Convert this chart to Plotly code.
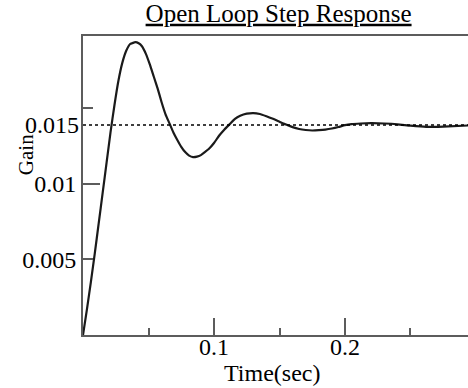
import plotly.graph_objects as go

# Step response samples
time_s = [0, 0.003, 0.006, 0.009, 0.012, 0.015, 0.018, 0.021, 0.024, 0.027,
          0.030, 0.033, 0.036, 0.0375, 0.040, 0.0425, 0.045, 0.048, 0.051,
          0.054, 0.057, 0.060, 0.063, 0.066, 0.069, 0.072, 0.075, 0.078,
          0.081, 0.084, 0.087, 0.090, 0.093, 0.096, 0.100, 0.104, 0.108,
          0.112, 0.116, 0.120, 0.125, 0.130, 0.135, 0.140, 0.145, 0.150,
          0.155, 0.160, 0.165, 0.170, 0.175, 0.180, 0.185, 0.190, 0.195,
          0.200, 0.205, 0.212, 0.220, 0.230, 0.240, 0.250, 0.262, 0.275,
          0.294]
gain = [0, 0.0017, 0.0035, 0.0054, 0.0074, 0.0094, 0.0114, 0.0134, 0.0152,
        0.0168, 0.0180, 0.0188, 0.01925, 0.0193, 0.01937, 0.0193, 0.0191,
        0.0186, 0.0179, 0.0171, 0.0163, 0.0154, 0.0146, 0.0140, 0.0134,
        0.0129, 0.01245, 0.0121, 0.01187, 0.01177, 0.0118, 0.0119, 0.0121,
        0.0123, 0.0127, 0.0132, 0.0136, 0.01395, 0.0143, 0.0145, 0.01464,
        0.01468, 0.01462, 0.01447, 0.0143, 0.01411, 0.01392, 0.01375,
        0.01363, 0.01356, 0.01353, 0.01355, 0.01359, 0.01366, 0.01376,
        0.01388, 0.01395, 0.01399, 0.01401, 0.01399, 0.01394, 0.01385,
        0.01377, 0.01379, 0.01386]

steady_gain = 0.0139
x_range = [0, 0.2939]
y_range = [0, 0.01978]

x_major = [0.1, 0.2]
x_major_text = ["0.1", "0.2"]
x_minor = [0.05, 0.15, 0.25]
y_labelled = [0.005, 0.01]
y_labelled_text = ["0.005", "0.01"]
y_major = [0.01]
y_minor = [0.005, 0.015]
y_extra_label = "0.015"

title_text = "Open Loop Step Response"
x_title = "Time(sec)"
y_title = "Gain"

FONT = "Liberation Serif, Times New Roman, serif"
AXC = "#5c5c5c"

fig = go.Figure()
fig.add_trace(go.Scatter(x=x_range, y=[steady_gain, steady_gain], mode="lines",
                         line=dict(color="black", width=1.5, dash="dot"),
                         hoverinfo="skip", showlegend=False, yaxis="y2"))
fig.add_trace(go.Scatter(x=time_s, y=gain, mode="lines",
                         line=dict(color="#1a1a1a", width=2.2, shape="spline", smoothing=0.5),
                         showlegend=False))

fig.update_layout(
    width=468, height=388,
    margin=dict(l=83, r=0, t=36, b=53),
    paper_bgcolor="white", plot_bgcolor="white",
    font=dict(family=FONT, size=24, color="black"),
    title=dict(text=title_text, x=0.508, xref="paper", xanchor="center",
               y=1 - 13/388, yref="container", yanchor="middle",
               font=dict(family=FONT, size=25, color="black", lineposition="under")),
    xaxis=dict(range=x_range, showgrid=False, zeroline=False,
               showline=True, linecolor=AXC, linewidth=2, mirror=True,
               ticks="inside", tickvals=x_major, ticktext=x_major_text,
               ticklen=17, tickwidth=2, tickcolor=AXC, ticklabelstandoff=-11,
               minor=dict(tickvals=x_minor, ticks="inside", ticklen=7,
                          tickwidth=2, tickcolor=AXC, showgrid=False),
               tickfont=dict(family=FONT, size=24, color="black")),
    yaxis=dict(range=y_range, showgrid=False, zeroline=False,
               showline=True, linecolor=AXC, linewidth=2,
               ticks="inside", tickvals=y_labelled, ticktext=y_labelled_text,
               ticklen=10, tickwidth=2, tickcolor=AXC,
               minor=dict(tickvals=y_minor, ticks="inside", ticklen=10,
                          tickwidth=2, tickcolor=AXC, showgrid=False),
               tickfont=dict(family=FONT, size=24, color="black")),
    yaxis2=dict(range=y_range, overlaying="y", side="left", showgrid=False,
                zeroline=False, showline=False, ticks="inside", tickvals=y_major,
                ticklen=17, tickwidth=2, tickcolor=AXC, showticklabels=False),
    annotations=[
        dict(text=x_title, xref="paper", yref="paper", x=0.491, y=-0.128,
             xanchor="center", yanchor="middle", showarrow=False,
             font=dict(family=FONT, size=24, color="black")),
        dict(text=y_title, xref="paper", yref="paper", x=-0.1494, y=0.603,
             xanchor="center", yanchor="middle", textangle=-90, showarrow=False,
             font=dict(family=FONT, size=21, color="black")),
        dict(text=y_extra_label, xref="paper", yref="y", x=0, y=steady_gain,
             xanchor="right", yanchor="middle", xshift=-2, showarrow=False,
             font=dict(family=FONT, size=24, color="black")),
    ],
)

fig.write_html("out.html")
